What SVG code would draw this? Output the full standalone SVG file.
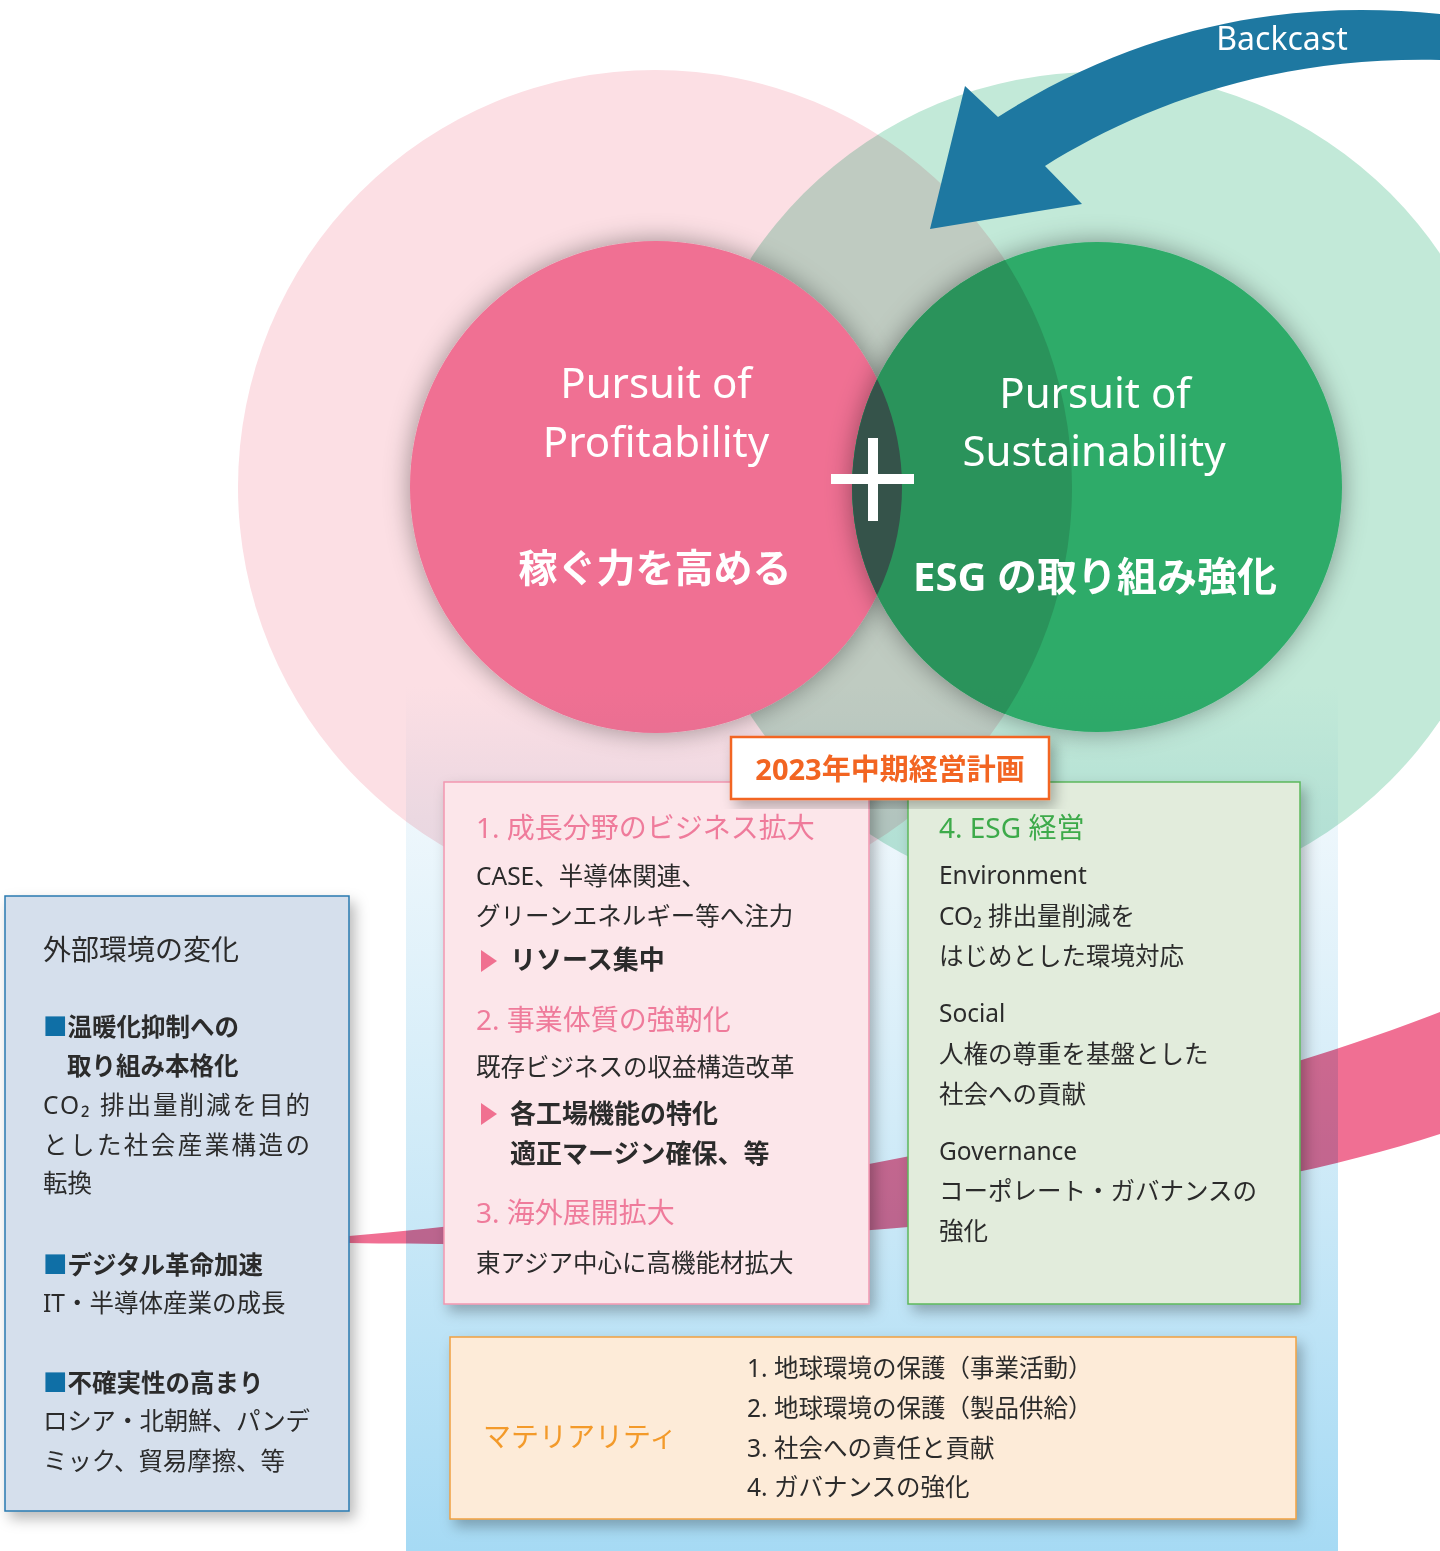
<svg xmlns="http://www.w3.org/2000/svg" width="1440" height="1551" viewBox="0 0 1440 1551">
<style>
.t{font-family:"Noto Sans","Noto Sans CJK JP",sans-serif;fill:#2b2b2b}
.j{font-family:"Noto Sans CJK JP",sans-serif;fill:#2b2b2b}
.w{fill:#fff}
.b{font-weight:700}
.pt{fill:#ef7b9b}
.gt{fill:#3daa4a}
.body{font-size:24.5px}
.mul{mix-blend-mode:multiply}
</style>
<defs>
<filter id="csh" x="-20%" y="-20%" width="140%" height="140%">
<feDropShadow dx="0" dy="0" stdDeviation="13" flood-color="#000" flood-opacity="0.38"/>
</filter>
<filter id="bsh" x="-10%" y="-10%" width="125%" height="125%">
<feDropShadow dx="5" dy="7" stdDeviation="7" flood-color="#000" flood-opacity="0.28"/>
</filter>
<linearGradient id="panel" x1="0" y1="687" x2="0" y2="1551" gradientUnits="userSpaceOnUse">
<stop offset="0" stop-color="#ffffff"/>
<stop offset="0.15" stop-color="#eef7fc"/>
<stop offset="0.5" stop-color="#d3ecf8"/>
<stop offset="1" stop-color="#a6daf4"/>
</linearGradient>
<clipPath id="pinkIn"><circle cx="656" cy="487" r="246"/></clipPath>
<clipPath id="pinkOut"><circle cx="655" cy="487" r="417"/></clipPath>
</defs>

<g id="outer-circles">
<circle cx="655" cy="487" r="417" fill="#fcdfe4"/>
<circle class="mul" cx="1097" cy="487" r="415" fill="#c2e9d8"/>
</g>

<g id="profitability">
<circle cx="656" cy="487" r="246" fill="#f06f93" filter="url(#csh)"/>
<text class="t w" x="656" y="398" font-size="42" text-anchor="middle">Pursuit of</text>
<text class="t w" x="656" y="457" font-size="42" text-anchor="middle">Profitability</text>
<text class="j w b" x="655" y="582" font-size="39" text-anchor="middle">稼ぐ力を高める</text>
</g>

<g id="sustainability">
<circle cx="1097" cy="487" r="245" fill="#2dab69" filter="url(#csh)"/>
<circle cx="1097" cy="487" r="245" fill="#2a935b" clip-path="url(#pinkOut)"/>
<circle cx="1097" cy="487" r="245" fill="#35534a" clip-path="url(#pinkIn)"/>
<text class="t w" x="1095" y="408" font-size="42" text-anchor="middle">Pursuit of</text>
<text class="t w" x="1094" y="466" font-size="42" text-anchor="middle">Sustainability</text>
<text class="t w b" x="1095" y="591" font-size="40" text-anchor="middle">ESG の取り組み強化</text>
</g>

<g id="plus">
<rect x="831" y="474" width="83" height="10" fill="#fff"/>
<rect x="868" y="438" width="10" height="83" fill="#fff"/>
</g>

<g id="connectors">
<path d="M349,1236 C700,1205 1150,1125 1440,1012 L1440,1134 C1150,1228 700,1250 349,1243 Z" fill="#f06f93"/>
</g>

<rect id="panel-bg" class="mul" x="406" y="687" width="932" height="864" fill="url(#panel)"/>

<g id="backcast">
<path d="M1440,14 C1300,0 1150,20 998,117 L965,86 L930,229 L1082,204 L1045,166 C1135,110 1265,56 1440,60 Z" fill="#1e78a1"/>
<text class="t w" x="1282" y="50" font-size="32" text-anchor="middle">Backcast</text>
</g>

<g id="external">
<rect x="5" y="896" width="344" height="615" fill="#d5dfec" stroke="#2a7ab0" stroke-width="1.5" filter="url(#bsh)"/>
<text class="j" x="43" y="960" font-size="28">外部環境の変化</text>
<text class="j b" x="43" y="1036" font-size="24.5"><tspan fill="#0f6fa6">■</tspan>温暖化抑制への</text>
<text class="j b" x="67" y="1075" font-size="24.5">取り組み本格化</text>
<text class="t body" x="43" y="1114" textLength="267" lengthAdjust="spacing">CO₂ 排出量削減を目的</text>
<text class="t body" x="43" y="1154" textLength="267" lengthAdjust="spacing">とした社会産業構造の</text>
<text class="t body" x="43" y="1192">転換</text>
<text class="j b" x="43" y="1274" font-size="24.5"><tspan fill="#0f6fa6">■</tspan>デジタル革命加速</text>
<text class="t body" x="43" y="1312">IT・半導体産業の成長</text>
<text class="j b" x="43" y="1392" font-size="24.5"><tspan fill="#0f6fa6">■</tspan>不確実性の高まり</text>
<text class="t body" x="43" y="1430" textLength="267" lengthAdjust="spacing">ロシア・北朝鮮、パンデ</text>
<text class="t body" x="43" y="1470" textLength="242" lengthAdjust="spacing">ミック、貿易摩擦、等</text>
</g>

<g id="box-growth">
<rect x="444" y="782" width="425" height="522" fill="#fce6ea" stroke="#f297b0" stroke-width="1.5" filter="url(#bsh)"/>
<text class="t pt" x="476" y="838" font-size="28">1. 成長分野のビジネス拡大</text>
<text class="t body" x="476" y="885">CASE、半導体関連、</text>
<text class="t body" x="476" y="925">グリーンエネルギー等へ注力</text>
<polygon points="481,950 497,961 481,972" fill="#f07090"/>
<text class="j b" x="510" y="969" font-size="26">リソース集中</text>
<text class="t pt" x="476" y="1030" font-size="28">2. 事業体質の強靭化</text>
<text class="t body" x="476" y="1076">既存ビジネスの収益構造改革</text>
<polygon points="481,1103 497,1114 481,1125" fill="#f07090"/>
<text class="j b" x="510" y="1123" font-size="26">各工場機能の特化</text>
<text class="j b" x="510" y="1163" font-size="26">適正マージン確保、等</text>
<text class="t pt" x="476" y="1223" font-size="28">3. 海外展開拡大</text>
<text class="t body" x="476" y="1272">東アジア中心に高機能材拡大</text>
</g>

<g id="box-esg">
<rect x="908" y="782" width="392" height="522" fill="#e2ecdc" stroke="#5cb85c" stroke-width="1.5" filter="url(#bsh)"/>
<text class="t gt" x="939" y="838" font-size="28">4. ESG 経営</text>
<text class="t body" x="939" y="884">Environment</text>
<text class="t body" x="939" y="925">CO₂ 排出量削減を</text>
<text class="t body" x="939" y="965">はじめとした環境対応</text>
<text class="t body" x="939" y="1022">Social</text>
<text class="t body" x="939" y="1063">人権の尊重を基盤とした</text>
<text class="t body" x="939" y="1103">社会への貢献</text>
<text class="t body" x="939" y="1160">Governance</text>
<text class="t body" x="939" y="1200">コーポレート・ガバナンスの</text>
<text class="t body" x="939" y="1240">強化</text>
</g>

<g id="plan-label">
<rect x="731" y="737" width="318" height="62" fill="#fff" stroke="#f26522" stroke-width="2.5" filter="url(#bsh)"/>
<text class="t b" x="890" y="780" font-size="29" text-anchor="middle" style="fill:#f26522">2023年中期経営計画</text>
</g>

<g id="materiality">
<rect x="450" y="1337" width="846" height="182" fill="#fdebd8" stroke="#f0a040" stroke-width="1.5" filter="url(#bsh)"/>
<text class="j" x="483" y="1447" font-size="28" style="fill:#f39a2a">マテリアリティ</text>
<text class="t body" x="747" y="1377">1. 地球環境の保護（事業活動）</text>
<text class="t body" x="747" y="1417">2. 地球環境の保護（製品供給）</text>
<text class="t body" x="747" y="1457">3. 社会への責任と貢献</text>
<text class="t body" x="747" y="1496">4. ガバナンスの強化</text>
</g>
</svg>
